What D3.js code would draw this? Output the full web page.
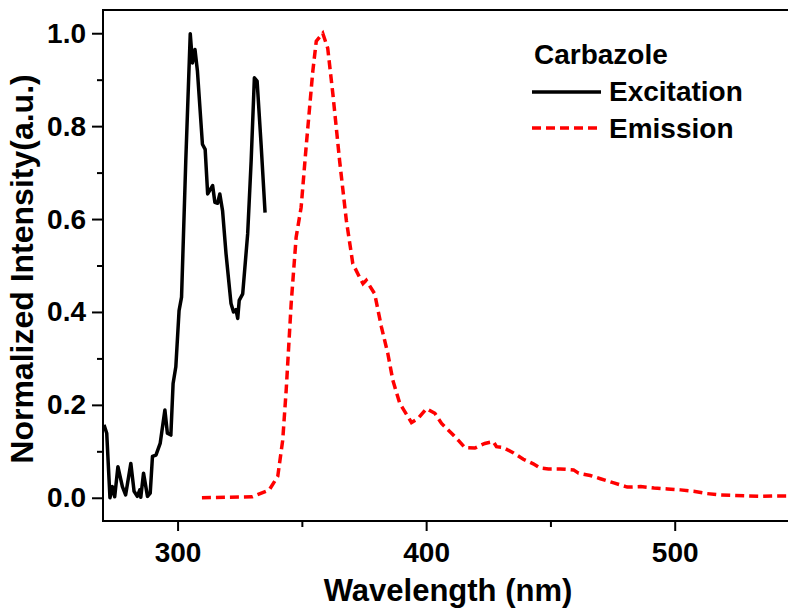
<!DOCTYPE html>
<html>
<head>
<meta charset="utf-8">
<script src="https://cdn.jsdelivr.net/npm/d3@7"></script>
<style>
  body { margin: 0; background: #fff; }
  svg text { font-family: "Liberation Sans", Arial, sans-serif; font-weight: bold; }
</style>
</head>
<body>
<svg id="chart" width="788" height="609"></svg>
<script>
// excitation spectrum (nm, normalized intensity)
const excWl = [270.4, 271.5, 272.8, 273.8, 274.7, 276, 277.8, 279.1, 281.2, 282.5, 283.8, 284.8, 285.2, 286.3, 287.9, 289,
  289.9, 291.3, 293, 294.9, 295.9, 297.3, 298.2, 299.3, 300.6, 301.6, 303.3, 305.1, 306, 307, 308, 310, 311.1, 312.1,
  314.1, 315, 316.1, 317, 318.1, 319.5, 321.5, 322.5, 323.5, 324.2, 324.8, 326.2, 328.2, 329.6, 330.9, 332, 333.6, 335.2];
const excVal = [0.157, 0.139, 0.0, 0.024, 0.002, 0.067, 0.024, 0.006, 0.074, 0.014, 0.003, 0.017, 0.001, 0.053, 0.003, 0.01,
  0.089, 0.092, 0.117, 0.189, 0.139, 0.135, 0.246, 0.282, 0.403, 0.432, 0.725, 0.999, 0.936, 0.965, 0.918, 0.761, 0.75, 0.654,
  0.672, 0.636, 0.634, 0.654, 0.618, 0.525, 0.418, 0.4, 0.405, 0.386, 0.425, 0.439, 0.568, 0.725, 0.904, 0.897, 0.761, 0.614];

// emission spectrum
const emiWl = [309.8, 320, 330, 336.9, 340.3, 342.3, 343.7, 344.7, 345.7, 347.7, 349.7, 351.7, 354.4, 355.8, 358.4, 360.4,
  362.5, 365.2, 367.9, 370.5, 373.2, 374.6, 375.9, 379.3, 382, 384.6, 386.6, 389.4, 394.1, 396.8, 400.1, 403.5, 406.2,
  410.2, 412.9, 415.6, 419.6, 423.6, 427, 428.3, 431, 435, 439.1, 443.1, 445.8, 449.2, 453.9, 459.3, 461.3, 466, 470.1,
  475.5, 480.9, 486.3, 491.7, 497.1, 502.3, 507.6, 513, 518.4, 523.8, 529.2, 534.5, 539.9, 545.8];
const emiVal = [0.0, 0.001, 0.002, 0.017, 0.046, 0.124, 0.232, 0.325, 0.418, 0.561, 0.625, 0.754, 0.918, 0.983, 1.0, 0.968,
  0.868, 0.725, 0.597, 0.504, 0.475, 0.461, 0.468, 0.439, 0.368, 0.31, 0.253, 0.203, 0.162, 0.171, 0.192, 0.182, 0.16,
  0.139, 0.124, 0.108, 0.107, 0.117, 0.121, 0.11, 0.108, 0.097, 0.083, 0.073, 0.064, 0.062, 0.062, 0.06, 0.053, 0.048, 0.041,
  0.032, 0.023, 0.024, 0.021, 0.019, 0.017, 0.014, 0.009, 0.006, 0.005, 0.004, 0.003, 0.004, 0.004];

const xTicks = [300, 400, 500];
const xMinor = [350, 450];
const yTicks = [0, 0.2, 0.4, 0.6, 0.8, 1.0];
const yMinor = [0.1, 0.3, 0.5, 0.7, 0.9];

const svg = d3.select("#chart");
const mLeft = 103, mRight = 799, mTop = 10, mBottom = 521;

const x = d3.scaleLinear().domain([270, 550]).range([mLeft, mRight]);
const y = d3.scaleLinear().domain([-0.05, 1.05]).range([mBottom, mTop]);

// frame
svg.append("rect")
  .attr("x", mLeft).attr("y", mTop)
  .attr("width", mRight - mLeft).attr("height", mBottom - mTop)
  .attr("fill", "none").attr("stroke", "#000").attr("stroke-width", 2);

// x axis
svg.append("g").attr("transform", `translate(0,${mBottom})`)
  .call(d3.axisBottom(x).tickValues(xTicks).tickSize(10).tickPadding(11).tickFormat(d3.format("d")));
svg.append("g").attr("transform", `translate(0,${mBottom})`)
  .call(d3.axisBottom(x).tickValues(xMinor).tickSize(6).tickFormat(""));

// y axis
svg.append("g").attr("transform", `translate(${mLeft},0)`)
  .call(d3.axisLeft(y).tickValues(yTicks).tickSize(11).tickPadding(6).tickFormat(d3.format(".1f")));
svg.append("g").attr("transform", `translate(${mLeft},0)`)
  .call(d3.axisLeft(y).tickValues(yMinor).tickSize(6).tickFormat(""));

svg.selectAll(".domain").remove();
svg.selectAll(".tick line").attr("stroke", "#000").attr("stroke-width", 2);
svg.selectAll(".tick text").attr("font-size", 28).attr("fill", "#000")
  .style("font-family", "'Liberation Sans', Arial, sans-serif").style("font-weight", "bold");

// axis titles
svg.append("text")
  .attr("x", 448).attr("y", 601)
  .attr("text-anchor", "middle")
  .attr("font-size", 31)
  .text("Wavelength (nm)");

svg.append("text")
  .attr("transform", "translate(33,269) rotate(-90)")
  .attr("text-anchor", "middle")
  .attr("font-size", 32)
  .text("Normalized Intensity(a.u.)");

// curves
const line = d3.line().x(d => x(d[0])).y(d => y(d[1]));

const plot = svg.append("g");
plot.append("path")
  .datum(d3.zip(excWl, excVal))
  .attr("d", line)
  .attr("fill", "none").attr("stroke", "#000")
  .attr("stroke-width", 3.5).attr("stroke-linejoin", "round");

plot.append("path")
  .datum(d3.zip(emiWl, emiVal))
  .attr("d", line)
  .attr("fill", "none").attr("stroke", "#ff0000")
  .attr("stroke-width", 3.5).attr("stroke-dasharray", "9,5");

// legend
svg.append("text").attr("x", 534).attr("y", 64).attr("font-size", 28).text("Carbazole");
svg.append("line").attr("x1", 532).attr("x2", 601).attr("y1", 92).attr("y2", 92)
  .attr("stroke", "#000").attr("stroke-width", 3.5);
svg.append("text").attr("x", 609).attr("y", 101).attr("font-size", 28).text("Excitation");
svg.append("line").attr("x1", 532).attr("x2", 601).attr("y1", 128).attr("y2", 128)
  .attr("stroke", "#ff0000").attr("stroke-width", 3.5).attr("stroke-dasharray", "9,5");
svg.append("text").attr("x", 609).attr("y", 138).attr("font-size", 28).text("Emission");
</script>
</body>
</html>
